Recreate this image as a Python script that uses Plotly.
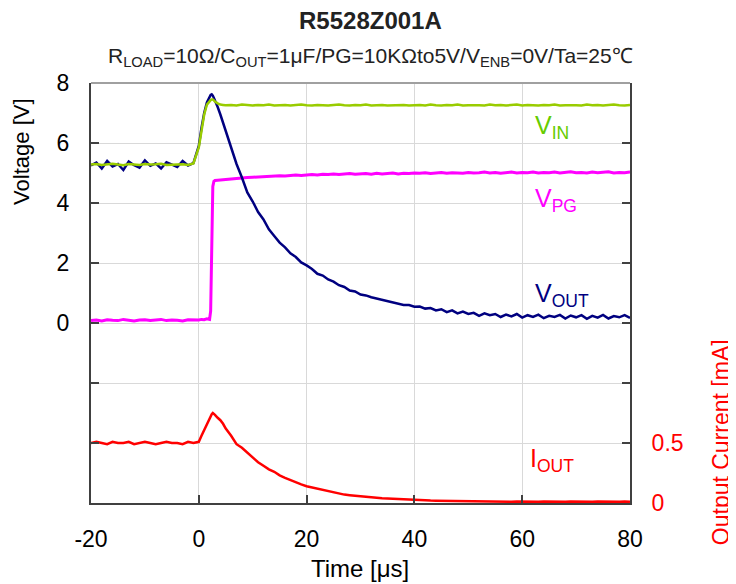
import plotly.graph_objects as go

# ---------------- data ----------------
time_us = (list(range(-20, 0)) +
           [0, 0.5, 1, 1.5, 2, 2.2, 2.4, 2.6, 2.8, 3, 3.5, 4, 4.5] +
           list(range(5, 81)))

v_in = ([5.28, 5.30, 5.27, 5.29, 5.31, 5.28, 5.26, 5.30, 5.29, 5.27,
         5.30, 5.28, 5.29, 5.31, 5.27, 5.28, 5.30, 5.29, 5.27, 5.32] +
        [5.85, 6.45, 6.95, 7.28, 7.40, 7.43, 7.45, 7.45, 7.42, 7.38, 7.32, 7.28, 7.27] +
        [7.26, 7.27, 7.25, 7.28, 7.26, 7.25, 7.27, 7.26, 7.28, 7.25,
         7.26, 7.27, 7.25, 7.26, 7.28, 7.26, 7.25, 7.27, 7.26, 7.25,
         7.27, 7.28, 7.26, 7.25, 7.27, 7.26, 7.28, 7.25, 7.26, 7.27,
         7.25, 7.26, 7.28, 7.27, 7.25, 7.26, 7.27, 7.25, 7.28, 7.26,
         7.25, 7.27, 7.26, 7.28, 7.25, 7.26, 7.27, 7.26, 7.25, 7.28,
         7.26, 7.27, 7.25, 7.26, 7.28, 7.25, 7.27, 7.26, 7.25, 7.27,
         7.26, 7.28, 7.25, 7.26, 7.27, 7.26, 7.25, 7.28, 7.26, 7.27,
         7.25, 7.26, 7.28, 7.26, 7.25, 7.27])

v_out = ([5.25, 5.35, 5.15, 5.40, 5.22, 5.30, 5.10, 5.38, 5.26, 5.18,
          5.42, 5.24, 5.32, 5.15, 5.36, 5.27, 5.20, 5.40, 5.25, 5.33] +
         [5.90, 6.50, 7.00, 7.35, 7.55, 7.60, 7.62, 7.58, 7.50, 7.42, 7.20, 6.95, 6.68] +
         [6.40, 5.85, 5.30, 4.85, 4.35, 4.05, 3.70, 3.45, 3.12, 2.90,
          2.68, 2.52, 2.32, 2.20, 2.02, 1.92, 1.80, 1.64, 1.58, 1.45,
          1.38, 1.26, 1.20, 1.08, 1.05, 0.95, 0.92, 0.86, 0.82, 0.76,
          0.74, 0.68, 0.66, 0.60, 0.60, 0.54, 0.55, 0.48, 0.50, 0.42,
          0.46, 0.36, 0.42, 0.32, 0.38, 0.30, 0.34, 0.24, 0.32, 0.26,
          0.30, 0.20, 0.28, 0.22, 0.30, 0.18, 0.26, 0.20, 0.28, 0.16,
          0.24, 0.20, 0.27, 0.15, 0.25, 0.19, 0.26, 0.14, 0.24, 0.18,
          0.27, 0.15, 0.23, 0.19, 0.26, 0.17])

v_pg = ([0.08, 0.10, 0.07, 0.11, 0.09, 0.08, 0.12, 0.09, 0.07, 0.10,
         0.11, 0.08, 0.09, 0.12, 0.08, 0.10, 0.09, 0.07, 0.11, 0.10] +
        [0.10, 0.12, 0.11, 0.14, 0.12, 0.40, 3.00, 4.55, 4.72, 4.75, 4.76, 4.77, 4.78] +
        [4.78, 4.80, 4.82, 4.83, 4.85, 4.86, 4.87, 4.89, 4.88, 4.90,
         4.91, 4.90, 4.92, 4.93, 4.92, 4.94, 4.95, 4.93, 4.96, 4.95,
         4.97, 4.95, 4.96, 4.98, 4.96, 4.97, 4.98, 4.96, 4.99, 4.97,
         4.98, 5.00, 4.97, 4.99, 4.98, 5.00, 4.99, 5.01, 4.98, 5.00,
         5.02, 4.99, 5.01, 5.00, 4.99, 5.02, 5.00, 5.01, 5.03, 5.00,
         5.02, 4.99, 5.01, 5.03, 5.00, 5.02, 5.01, 5.03, 5.00, 5.02,
         5.01, 5.03, 5.00, 5.02, 5.04, 5.01, 5.02, 5.00, 5.03, 5.01,
         5.02, 5.04, 5.00, 5.02, 5.01, 5.03])

i_out = ([0.50, 0.51, 0.50, 0.49, 0.51, 0.50, 0.50, 0.51, 0.49, 0.50,
          0.51, 0.50, 0.49, 0.50, 0.51, 0.50, 0.50, 0.49, 0.51, 0.50] +
         [0.51, 0.56, 0.61, 0.66, 0.71, 0.73, 0.74, 0.75, 0.745, 0.735, 0.71, 0.69, 0.66] +
         [0.62, 0.56, 0.49, 0.46, 0.42, 0.38, 0.34, 0.31, 0.28, 0.26,
          0.23, 0.21, 0.19, 0.17, 0.155, 0.14, 0.13, 0.115, 0.105, 0.095,
          0.085, 0.078, 0.07, 0.065, 0.06, 0.055, 0.05, 0.048, 0.044, 0.04,
          0.038, 0.035, 0.032, 0.03, 0.028, 0.026, 0.024, 0.022, 0.02, 0.019,
          0.018, 0.016, 0.015, 0.014, 0.013, 0.012, 0.012, 0.011, 0.01, 0.012,
          0.01, 0.009, 0.011, 0.01, 0.012, 0.01, 0.009, 0.011, 0.01, 0.012,
          0.01, 0.009, 0.011, 0.01, 0.012, 0.01, 0.011, 0.009, 0.01, 0.012,
          0.01, 0.011, 0.009, 0.01, 0.012, 0.01])

x_ticks = [-20, 0, 20, 40, 60, 80]
x_tick_text = ["-20", "0", "20", "40", "60", "80"]
y_ticks = [-6, -4, -2, 0, 2, 4, 6, 8]
y_tick_text = ["", "", "", "0", "2", "4", "6", "8"]
y2_ticks = [0, 0.5, 1, 1.5, 2, 2.5, 3, 3.5]
y2_tick_text = ["0", "0.5", "", "", "", "", "", ""]

# ---------------- figure ----------------
FONT = "Liberation Sans, Arial, sans-serif"
AX = "#404040"

fig = go.Figure()
fig.add_trace(go.Scatter(x=time_us, y=v_pg, mode="lines", line=dict(color="#ff00ff", width=3), name="VPG"))
fig.add_trace(go.Scatter(x=time_us, y=v_out, mode="lines", line=dict(color="#000080", width=2.5), name="VOUT"))
fig.add_trace(go.Scatter(x=time_us, y=v_in, mode="lines", line=dict(color="#99cc00", width=2.5), name="VIN"))
fig.add_trace(go.Scatter(x=time_us, y=i_out, mode="lines", line=dict(color="#ff0000", width=2.5), name="IOUT", yaxis="y2"))

# page body has an 8px margin, so the figure is drawn 8px smaller with shifted margins
fig.update_layout(
    width=728, height=576,
    margin=dict(l=83, r=106, t=75, b=81, autoexpand=False),
    paper_bgcolor="white", plot_bgcolor="white",
    showlegend=False,
    font=dict(family=FONT, size=20, color="black"),
    xaxis=dict(range=[-20, 80], tickvals=x_ticks, ticktext=x_tick_text, showgrid=True,
               gridcolor="#d9d9d9", gridwidth=1, automargin=False,
               showline=True, linecolor=AX, linewidth=2, ticks="inside", ticklen=8, tickcolor=AX,
               tickwidth=1.5, zeroline=False, tickfont=dict(size=23, color="black"),
               ticklabelstandoff=14),
    yaxis=dict(range=[-6, 8], tickvals=y_ticks, ticktext=y_tick_text, showgrid=True, gridcolor="#d9d9d9",
               showline=True, linecolor=AX, linewidth=2, ticks="inside", ticklen=8, tickcolor=AX,
               tickwidth=1.5, zeroline=False, tickfont=dict(size=23, color="black"),
               ticklabelstandoff=15, automargin=False),
    yaxis2=dict(range=[0, 3.5], overlaying="y", side="right", tickvals=y2_ticks, ticktext=y2_tick_text,
                showgrid=False, showline=True, linecolor=AX, linewidth=2, ticks="inside", ticklen=8,
                tickcolor=AX, tickwidth=1.5, zeroline=False, tickfont=dict(size=23, color="#ff0000"),
                ticklabelstandoff=15, automargin=False),
)

# top border
fig.add_shape(type="line", xref="paper", yref="paper", x0=0, x1=1, y0=1, y1=1,
              line=dict(color="#a0a0a0", width=2))

def pannot(text, x, y, size, color, angle=0):
    return dict(text=text, x=x, y=y, xref="paper", yref="paper", xanchor="center", yanchor="middle",
                textangle=angle, showarrow=False, font=dict(size=size, color=color))

ann = [
    pannot("<b>R5528Z001A</b>", 0.518, 1.15, 24, "#222"),
    pannot("R<sub>LOAD</sub>=10Ω/C<sub>OUT</sub>=1μF/PG=10KΩto5V/V<sub>ENB</sub>=0V/Ta=25℃",
           0.518, 1.062, 21, "#222"),
    pannot("Voltage [V]", -0.128, 0.836, 22, "black", -90),
    pannot("Output Current [mA]", 1.169, 0.145, 23, "#ff0000", -90),
    pannot("Time [μs]", 0.499, -0.155, 24, "black"),
]
for txt, xv, yv, col in [("V<sub>IN</sub>", 62, 6.52, "#66cc00"),
                         ("V<sub>PG</sub>", 62, 4.09, "#ff00ff"),
                         ("V<sub>OUT</sub>", 62, 0.92, "#000080"),
                         ("I<sub>OUT</sub>", 61, -4.58, "#ff0000")]:
    ann.append(dict(text=txt, x=xv, y=yv, xref="x", yref="y", xanchor="left", yanchor="middle",
                    showarrow=False, font=dict(size=25, color=col)))
fig.update_layout(annotations=ann)

fig.write_html("out.html")
